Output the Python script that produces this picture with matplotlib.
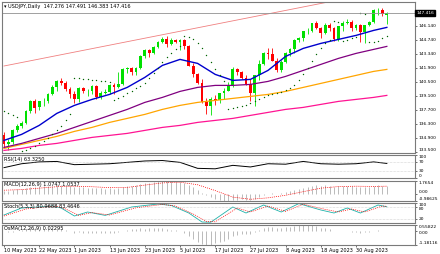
import numpy as np
import matplotlib.pyplot as plt

W, H = 440, 254

# ---- data (USDJPY daily, 10 May - 8 Sep 2023) ----
opens = [135.2, 134.3, 134.5, 135.7, 136.1, 136.4, 137.6, 138.6, 138.0, 138.6,
         138.6, 139.3, 140.0, 140.6, 140.4, 139.8, 139.3, 138.8, 139.9, 139.6,
         139.6, 140.1, 139.0, 139.4, 139.5, 140.2, 140.0, 140.3, 141.8, 141.9,
         141.5, 141.9, 143.1, 143.7, 143.4, 144.0, 144.5, 144.8, 144.3, 144.7,
         144.5, 144.7, 144.1, 142.1, 141.3, 140.4, 138.5, 138.1, 138.8, 138.7,
         139.4, 139.6, 140.1, 141.8, 141.5, 140.9, 140.3, 139.4, 141.2, 142.3,
         143.4, 143.3, 142.6, 141.7, 142.5, 143.4, 143.8, 144.7, 144.9, 145.6,
         145.6, 146.4, 145.9, 145.4, 146.2, 145.9, 144.8, 146.1, 146.4, 146.5,
         145.9, 146.2, 145.5, 146.2, 146.5, 147.7, 147.7, 147.276]
highs = [135.5, 134.8, 135.8, 136.3, 136.6, 137.7, 138.7, 138.8, 138.6, 138.9,
         139.4, 140.2, 140.7, 140.9, 140.6, 140.0, 139.6, 140.0, 140.0, 139.8,
         140.2, 140.2, 139.6, 139.8, 140.3, 140.4, 141.5, 141.9, 142.0, 142.0,
         142.0, 143.2, 143.8, 143.8, 144.1, 144.6, 145.0, 145.1, 144.9, 144.8,
         144.8, 144.8, 144.2, 142.4, 141.4, 140.8, 138.9, 139.0, 139.2, 139.4,
         139.9, 140.5, 142.0, 141.9, 141.6, 141.2, 140.8, 141.1, 142.7, 143.5,
         143.9, 143.9, 142.9, 142.7, 143.5, 143.9, 144.8, 145.0, 145.6, 145.9,
         146.4, 146.6, 146.0, 146.4, 146.4, 146.0, 146.1, 146.6, 146.8, 146.7,
         146.3, 146.3, 146.2, 146.6, 147.8, 147.9, 147.9, 147.491]
lows = [134.0, 133.7, 134.3, 135.5, 135.9, 136.3, 137.4, 137.4, 137.7, 138.1,
        138.4, 139.2, 139.6, 140.2, 139.6, 138.9, 138.4, 138.5, 139.4, 139.1,
        139.3, 138.8, 138.8, 139.3, 139.3, 139.3, 139.9, 140.2, 141.4, 141.2,
        141.2, 141.8, 142.9, 143.0, 143.3, 143.9, 144.4, 144.0, 144.2, 144.4,
        143.7, 143.8, 142.1, 141.0, 140.3, 138.4, 137.3, 137.2, 138.2, 138.4,
        138.8, 139.6, 140.0, 141.2, 140.8, 140.2, 138.6, 138.1, 140.7, 142.2,
        142.8, 142.6, 141.5, 141.5, 142.4, 143.1, 143.4, 144.5, 144.6, 145.3,
        145.5, 145.8, 144.9, 145.3, 145.6, 144.6, 144.6, 145.6, 146.3, 145.6,
        145.7, 144.5, 144.4, 146.1, 146.4, 147.2, 147.1, 146.383]
closes = [134.3, 134.5, 135.7, 136.1, 136.4, 137.6, 138.6, 137.9, 138.6, 138.6,
          139.3, 140.0, 140.6, 140.4, 139.8, 139.3, 138.8, 139.9, 139.6, 139.6,
          140.1, 139.0, 139.4, 139.5, 140.2, 140.0, 140.3, 141.8, 141.9, 141.5,
          141.9, 143.1, 143.7, 143.4, 144.0, 144.5, 144.8, 144.3, 144.7, 144.5,
          144.7, 144.1, 142.1, 141.3, 140.4, 138.5, 138.1, 138.8, 138.7, 139.4,
          139.6, 140.1, 141.8, 141.5, 140.9, 140.3, 139.4, 141.2, 142.3, 143.4,
          143.3, 142.6, 141.7, 142.5, 143.4, 143.8, 144.7, 144.9, 145.6, 145.6,
          146.4, 145.9, 145.4, 146.2, 145.9, 144.8, 146.1, 146.4, 146.5, 145.9,
          146.2, 145.5, 146.2, 146.5, 147.7, 147.7, 147.3, 147.416]

sar = [137.6, 137.4, 137.2, 137.0, 133.6, 133.7, 133.9, 134.1, 134.4, 134.6,
       134.9, 135.3, 135.7, 136.1, 136.7, 137.3, 140.9, 140.9, 140.8, 140.8,
       140.7, 140.7, 140.6, 140.6, 140.5, 138.7, 138.9, 139.1, 139.4, 139.6,
       139.9, 140.1, 140.4, 140.9, 141.4, 141.9, 142.5, 143.0, 143.4, 143.8,
       144.1, 145.1, 145.0, 144.8, 144.4, 143.9, 143.2, 142.5, 141.8, 141.2,
       140.6, 137.8, 137.9, 138.0, 138.1, 138.2, 138.4, 138.6, 138.8, 139.0,
       139.2, 139.3, 139.4, 139.5, 139.7, 139.9, 140.2, 140.7, 141.3, 141.9,
       142.6, 143.3, 143.9, 144.4, 144.7, 146.6, 146.5, 144.6, 144.7, 144.9,
       145.0, 147.4, 147.3, 144.5, 144.5, 144.6, 144.9, 145.1]

# moving averages, read every 4 bars
ma_idx = [0, 4, 8, 12, 16, 20, 24, 28, 32, 36, 40, 44, 48, 52, 56, 60, 64, 68, 72, 76, 80, 84, 87]
ma_blue = [134.7, 135.3, 136.2, 137.4, 138.2, 138.8, 139.3, 140.0, 141.0, 142.2, 142.8, 142.4,
           141.3, 140.7, 140.8, 141.7, 143.1, 143.9, 144.4, 144.8, 145.2, 145.7, 146.0]
ma_purple = [134.0, 134.4, 134.9, 135.4, 136.0, 136.6, 137.2, 137.8, 138.5, 139.0, 139.6, 140.0,
             140.2, 140.2, 140.3, 140.6, 141.1, 141.7, 142.3, 142.9, 143.4, 143.8, 144.1]
ma_orange = [133.9, 134.3, 134.7, 135.1, 135.6, 136.0, 136.5, 136.9, 137.3, 137.8, 138.2, 138.5,
             138.7, 138.9, 139.1, 139.3, 139.6, 140.0, 140.4, 140.8, 141.2, 141.6, 141.8]
ma_pink = [133.7, 133.9, 134.2, 134.4, 134.7, 135.0, 135.2, 135.4, 135.7, 136.0, 136.2, 136.5,
           136.7, 136.9, 137.2, 137.5, 137.8, 138.0, 138.3, 138.6, 138.8, 139.0, 139.2]

trend_idx = [0, 76]
trend_px = [142.14, 148.74]

price_ticks = [146.14, 144.74, 143.34, 141.9, 140.5, 139.1, 137.7, 136.3, 134.9, 133.5]
last_price = 147.416

rsi = [45, 62, 70, 72, 58, 60, 62, 68, 74, 76, 68, 42, 40, 55, 48, 62, 60, 72, 62, 60, 62, 70, 63.3]

macd = [0.45, 0.45, 0.52, 0.60, 0.68, 0.80, 0.95, 0.98, 1.02, 1.05,
        1.08, 1.12, 1.18, 1.18, 1.12, 1.05, 0.95, 0.95, 0.90, 0.85,
        0.85, 0.78, 0.75, 0.72, 0.74, 0.72, 0.76, 0.90, 1.02, 1.08,
        1.15, 1.30, 1.45, 1.52, 1.60, 1.70, 1.7654, 1.74, 1.72, 1.66,
        1.60, 1.50, 1.20, 0.90, 0.55, 0.15, -0.15, -0.45, -0.70, -0.86,
        -0.95, -0.98625, -0.85, -0.78, -0.75, -0.78, -0.88, -0.70, -0.45, -0.20,
        -0.05, 0.05, 0.02, 0.08, 0.20, 0.35, 0.52, 0.68, 0.85, 0.98,
        1.12, 1.15, 1.12, 1.15, 1.12, 1.00, 1.02, 1.05, 1.08, 1.02,
        1.00, 0.92, 0.95, 0.98, 1.10, 1.15, 1.10, 1.0747]
macd_sig = [0.50, 0.58, 0.78, 0.98, 1.05, 0.98, 0.85, 0.88, 1.20, 1.50, 1.60, 1.25,
            0.45, -0.45, -0.75, -0.55, -0.20, 0.30, 0.78, 1.00, 1.05, 1.02, 1.0537]

osma = [0.0, -0.05, -0.02, 0.03, 0.10, 0.20, 0.30, 0.28, 0.24, 0.22,
        0.22, 0.22, 0.20, 0.18, 0.10, 0.03, -0.10, -0.08, -0.10, -0.12,
        -0.12, -0.16, -0.15, -0.14, -0.10, -0.10, -0.08, 0.03, 0.14, 0.18,
        0.22, 0.30, 0.25, 0.28, 0.30, 0.32, 0.30, 0.22, 0.15, 0.08,
        0.00, -0.10, -0.38, -0.62, -0.88, -1.10, -1.18116, -1.15, -1.05, -0.95,
        -0.80, -0.62, -0.40, -0.28, -0.20, -0.20, -0.25, -0.08, 0.12, 0.28,
        0.35, 0.38, 0.30, 0.30, 0.35, 0.42, 0.50, 0.54, 0.55822, 0.55,
        0.52, 0.45, 0.34, 0.30, 0.22, 0.06, 0.03, 0.03, 0.05, -0.02,
        -0.05, -0.12, -0.08, -0.05, 0.06, 0.10, 0.06, 0.02295]

stoch_idx = [0, 4, 8, 11, 13, 16, 19, 23, 29, 35, 38, 42, 45, 47, 52, 55, 59, 63, 67, 72, 75, 78, 81, 85, 87]
stoch_main = [40, 75, 80, 85, 75, 35, 55, 38, 80, 95, 88, 50, 5, 4, 80, 50, 90, 55, 97, 65, 50, 75, 50, 90, 81]
stoch_sig_idx = [0, 5, 9, 12, 14, 17, 20, 24, 30, 36, 39, 43, 46, 48, 53, 56, 60, 64, 68, 73, 76, 79, 82, 86, 87]
stoch_sig = [35, 70, 80, 84, 70, 38, 52, 40, 76, 93, 85, 45, 8, 6, 75, 55, 85, 58, 94, 68, 55, 70, 55, 85, 83.5]

date_labels = ["10 May 2023", "22 May 2023", "1 Jun 2023", "13 Jun 2023", "23 Jun 2023",
               "5 Jul 2023", "17 Jul 2023", "27 Jul 2023", "8 Aug 2023", "18 Aug 2023",
               "30 Aug 2023"]
date_idx = [0, 8, 16, 24, 32, 40, 48, 56, 64, 72, 80]

# ---- layout ----
FS = 3.6
FSR = 3.2   # right-hand scale labels
fig = plt.figure(figsize=(4.4, 2.54), dpi=100)


def panel(y0, y1):
    ax = fig.add_axes([2 / W, 1 - y1 / H, 413 / W, (y1 - y0) / H])
    ax.set_xlim(-0.45, 93.4)
    for s in ax.spines.values():
        s.set_color("#7a7a7a")
        s.set_linewidth(0.8)
    ax.yaxis.tick_right()
    ax.tick_params(axis="y", labelsize=FSR, length=1.5, width=0.4, pad=1, colors="black")
    ax.set_xticks([])
    return ax


def scale(ax, ticks, labels, vas):
    ax.set_yticks(ticks)
    ax.set_yticklabels(labels)
    for t, va in zip(ax.get_yticklabels(), vas):
        t.set_va(va)


n = len(closes)
x = np.arange(n)

# main chart
ax = panel(2, 153)
ax.set_ylim(133.44, 148.54)
o = np.array(opens); c = np.array(closes)
cols = np.where(c >= o, "#00e000", "#ff0000")
ax.vlines(x, lows, highs, colors=cols, lw=0.6)
ax.bar(x, np.maximum(np.abs(c - o), 0.06), bottom=np.minimum(o, c), width=0.62, color=cols, lw=0)
ax.plot(trend_idx, trend_px, color="#f08080", lw=0.6)
ax.plot(ma_idx, ma_pink, color="#ff1493", lw=0.9)
ax.plot(ma_idx, ma_orange, color="#ffa500", lw=0.9)
ax.plot(ma_idx, ma_purple, color="#800080", lw=0.9)
ax.plot(ma_idx, ma_blue, color="#0000cd", lw=1.0)
ax.plot(x, sar, "o", color="#006400", ms=1.0, mew=0)
ax.axhline(last_price, color="#909090", lw=0.6)
scale(ax, price_ticks, [f"{p:.3f}" for p in price_ticks],
      ["center"] * (len(price_ticks) - 1) + ["bottom"])
ax.text(1.003, last_price, f"{last_price:.3f}", transform=ax.get_yaxis_transform(),
        fontsize=FSR, color="white", va="center", ha="left",
        bbox=dict(boxstyle="square,pad=0.2", fc="black", ec="black"))
ax.text(0.004, 0.985, "\u25be USDJPY,Daily  147.276 147.491 146.383 147.416",
        transform=ax.transAxes, fontsize=FS, va="top", ha="left")

# RSI
ax = panel(155, 178)
ax.set_ylim(0, 100)
ax.plot(ma_idx, rsi, color="black", lw=0.7)
for lv in (70, 30):
    ax.axhline(lv, color="#b0b0b0", lw=0.4, ls=(0, (1, 1.5)))
scale(ax, [100, 70, 30, 0], ["100", "70", "30", "0"], ["top", "center", "center", "bottom"])
ax.text(0.004, 0.93, "RSI(14) 63.3250", transform=ax.transAxes, fontsize=FS, va="top")

# MACD
ax = panel(181, 201)
ax.set_ylim(-0.98625, 1.7654)
ax.vlines(x, 0, macd, colors="#a0a0a0", lw=0.5)
ax.plot(ma_idx, macd_sig, color="#ff0000", lw=0.5, ls=(0, (1.5, 1.5)))
scale(ax, [1.7654, 0, -0.98625], ["1.7654", "0.00", "-0.98625"], ["top", "bottom", "bottom"])
ax.text(0.004, 0.93, "MACD(12,26,9) 1.0747 1.0537", transform=ax.transAxes, fontsize=FS, va="top")

# Stochastic
ax = panel(203, 223)
ax.set_ylim(0, 100)
ax.plot(stoch_idx, stoch_main, color="#20b2aa", lw=0.6)
ax.plot(stoch_sig_idx, stoch_sig, color="#ff0000", lw=0.5, ls=(0, (1.5, 1.5)))
for lv in (80, 20):
    ax.axhline(lv, color="#b0b0b0", lw=0.4, ls=(0, (1, 1.5)))
scale(ax, [100, 80, 20], ["100", "80", "20"], ["top", "top", "center"])
ax.text(0.004, 0.93, "Stoch(5,3,3) 80.9688 83.4646", transform=ax.transAxes, fontsize=FS, va="top")

# OsMA
ax = panel(225, 245)
ax.set_ylim(-1.18116, 0.55822)
ax.vlines(x, 0, osma, colors="#a0a0a0", lw=0.5)
scale(ax, [0.55822, 0, -1.18116], ["0.55822", "0.00", "-1.18116"], ["top", "top", "bottom"])
ax.text(0.004, 0.93, "OsMA(12,26,9) 0.02295", transform=ax.transAxes, fontsize=FS, va="top")
ax.set_xticks(date_idx)
ax.set_xticklabels(date_labels, ha="left")
ax.tick_params(axis="x", labelsize=FS, length=1.5, width=0.4, pad=1)

fig.savefig("out.png", dpi=100, facecolor="white")
